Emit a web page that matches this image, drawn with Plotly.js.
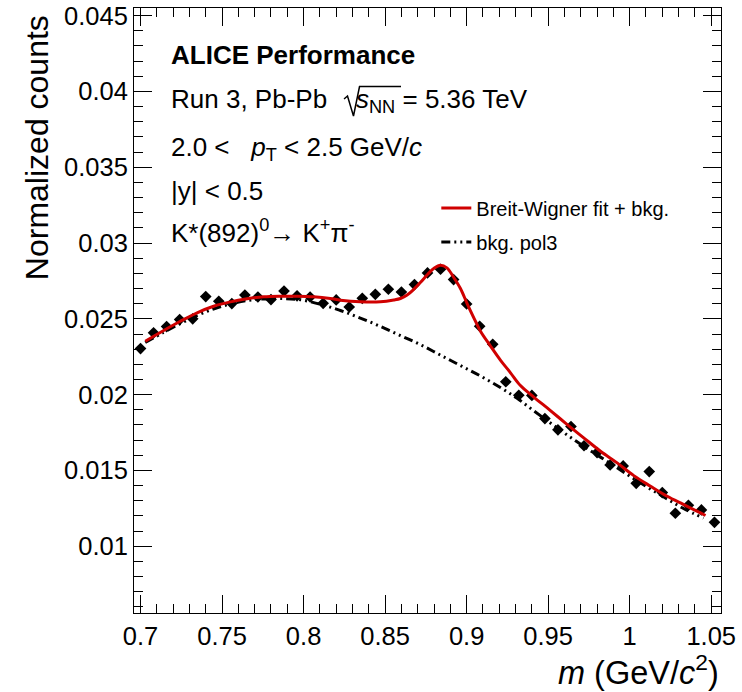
<!DOCTYPE html>
<html>
<head>
<meta charset="utf-8">
<script src="https://cdn.plot.ly/plotly-3.0.1.min.js"></script>
<style>
  html, body { margin: 0; padding: 0; background: #ffffff; }
  #chart { width: 742px; height: 692px; }
</style>
</head>
<body>
<div id="chart"></div>
<script>
// Invariant-mass bin centres (GeV/c^2) and normalized counts
const massBins = [0.700, 0.708, 0.716, 0.724, 0.732, 0.740, 0.748, 0.756, 0.764, 0.772,
                  0.780, 0.788, 0.796, 0.804, 0.812, 0.820, 0.828, 0.836, 0.844, 0.852,
                  0.860, 0.868, 0.876, 0.884, 0.892, 0.900, 0.908, 0.916, 0.924, 0.932,
                  0.940, 0.948, 0.956, 0.964, 0.972, 0.980, 0.988, 0.996, 1.004, 1.012,
                  1.020, 1.028, 1.036, 1.044, 1.052];
const normCounts = [0.02304, 0.02408, 0.02449, 0.02495, 0.02500, 0.02647, 0.02616, 0.02601, 0.02657, 0.02644,
                    0.02627, 0.02683, 0.02652, 0.02644, 0.02602, 0.02625, 0.02578, 0.02635, 0.02662, 0.02695,
                    0.02677, 0.02726, 0.02803, 0.02827, 0.02759, 0.02598, 0.02451, 0.02332, 0.02085, 0.01996,
                    0.01995, 0.01842, 0.01768, 0.01790, 0.01663, 0.01618, 0.01536, 0.01530, 0.01415, 0.01493,
                    0.01354, 0.01218, 0.01270, 0.01240, 0.01158];

// Breit-Wigner + residual background fit
const fitMass = [0.7029, 0.7142, 0.7244, 0.7347, 0.7448, 0.7551, 0.7653, 0.7755, 0.7858, 0.7960,
                 0.8062, 0.8164, 0.8226, 0.8348, 0.8471, 0.8553, 0.8594, 0.8635, 0.8674, 0.8716,
                 0.8760, 0.8802, 0.8839, 0.8879, 0.8919, 0.8962, 0.9003, 0.9044, 0.9085, 0.9146,
                 0.9207, 0.9269, 0.9330, 0.9412, 0.9514, 0.9617, 0.9718, 0.9821, 0.9923, 1.0025,
                 1.0128, 1.0230, 1.0332, 1.0434, 1.0465];
const fitCounts = [0.02352, 0.02423, 0.02484, 0.02540, 0.02583, 0.02612, 0.02632, 0.02645, 0.02649, 0.02649,
                   0.02645, 0.02634, 0.02623, 0.02612, 0.02612, 0.02624, 0.02634, 0.02657, 0.02693, 0.02739,
                   0.02792, 0.02835, 0.02853, 0.02836, 0.02776, 0.02700, 0.02601, 0.02507, 0.02418, 0.02321,
                   0.02228, 0.02144, 0.02060, 0.01984, 0.01895, 0.01803, 0.01715, 0.01627, 0.01550, 0.01466,
                   0.01396, 0.01330, 0.01275, 0.01220, 0.01203];

// Third-order polynomial background
const bkgMass = [0.7029, 0.7140, 0.7244, 0.7348, 0.7447, 0.7551, 0.7655, 0.7753, 0.7858, 0.7980,
                 0.8103, 0.8226, 0.8348, 0.8471, 0.8594, 0.8716, 0.8839, 0.8962, 0.9085, 0.9207,
                 0.9312, 0.9410, 0.9514, 0.9618, 0.9716, 0.9821, 0.9925, 1.0023, 1.0128, 1.0232,
                 1.0330, 1.0453];
const bkgCounts = [0.02344, 0.02410, 0.02469, 0.02522, 0.02565, 0.02598, 0.02621, 0.02631, 0.02634, 0.02626,
                   0.02596, 0.02555, 0.02505, 0.02450, 0.02390, 0.02330, 0.02261, 0.02192, 0.02123, 0.02047,
                   0.01974, 0.01895, 0.01813, 0.01733, 0.01661, 0.01588, 0.01516, 0.01447, 0.01377, 0.01311,
                   0.01249, 0.01186];

const xTickVals = [0.7, 0.75, 0.8, 0.85, 0.9, 0.95, 1.0, 1.05];
const xTickText = ['0.7', '0.75', '0.8', '0.85', '0.9', '0.95', '1', '1.05'];
const yTickVals = [0.01, 0.015, 0.02, 0.025, 0.03, 0.035, 0.04, 0.045];
const yTickText = ['0.01', '0.015', '0.02', '0.025', '0.03', '0.035', '0.04', '0.045'];

const FONT = 'Liberation Sans, Arial, Helvetica, sans-serif';
const NB = '\u00a0';
const TXT = 26;

const traces = [
  {
    x: massBins, y: normCounts, type: 'scatter', mode: 'markers',
    marker: { symbol: 'diamond', size: 9, color: '#000000' },
    showlegend: false, hoverinfo: 'skip'
  },
  {
    x: bkgMass, y: bkgCounts, type: 'scatter', mode: 'lines',
    name: 'bkg. pol3', legendgroup: 'b', legendrank: 2,
    line: { color: '#000000', width: 3, dash: '9px,4px,2px,4px,2px,4px', shape: 'spline' },
    hoverinfo: 'skip'
  },
  {
    x: fitMass, y: fitCounts, type: 'scatter', mode: 'lines',
    name: 'Breit-Wigner fit + bkg.', legendgroup: 'a', legendrank: 1,
    line: { color: '#d00000', width: 3, shape: 'spline' },
    hoverinfo: 'skip'
  }
];

const axisCommon = {
  showgrid: false, zeroline: false,
  showline: true, linecolor: '#000000', linewidth: 1, mirror: 'ticks',
  ticks: 'inside', ticklen: 18, tickwidth: 1, tickcolor: '#000000',
  tickfont: { family: FONT, size: 25.5, color: '#000000' },
  tickmode: 'array'
};

function label(text, x, y, size, extra) {
  return Object.assign({
    text: text, xref: 'paper', yref: 'paper', x: x, y: y,
    xanchor: 'left', yanchor: 'middle', showarrow: false,
    font: { family: FONT, size: size, color: '#000000' }
  }, extra || {});
}

const layout = {
  width: 742, height: 692,
  margin: { l: 134, r: 21, t: 8, b: 79 },
  paper_bgcolor: '#ffffff', plot_bgcolor: '#ffffff',
  font: { family: FONT, color: '#000000' },
  xaxis: Object.assign({}, axisCommon, {
    range: [0.696, 1.056], tickvals: xTickVals, ticktext: xTickText,
    minor: { tickmode: 'linear', tick0: 0.7, dtick: 0.01, ticks: 'inside', ticklen: 9, tickwidth: 1, tickcolor: '#000000', showgrid: false }
  }),
  yaxis: Object.assign({}, axisCommon, {
    range: [0.0056, 0.0455], tickvals: yTickVals, ticktext: yTickText,
    minor: { tickmode: 'linear', tick0: 0.01, dtick: 0.001, ticks: 'inside', ticklen: 9, tickwidth: 1, tickcolor: '#000000', showgrid: false }
  }),
  showlegend: true,
  legend: {
    x: 0.515, y: 0.7017, xanchor: 'left', yanchor: 'top',
    bgcolor: 'rgba(0,0,0,0)', borderwidth: 0,
    font: { family: FONT, size: 20, color: '#000000' },
    traceorder: 'grouped', tracegroupgap: 5, itemwidth: 30
  },
  // radical sign over s_NN
  shapes: [
    { type: 'path', xref: 'paper', yref: 'paper',
      path: 'M0.3578,0.8496 L0.3637,0.8545 L0.3739,0.8215 L0.3842,0.8702 L0.4549,0.8702',
      line: { color: '#000000', width: 1.5 } }
  ],
  annotations: [
    label('Normalized counts', -0.165, 0.7686, 32, { textangle: -90, xanchor: 'center' }),
    label('<i>m</i> (GeV/<i>c</i><sup>2</sup>)', 1.0, -0.0942, 32.5, { xanchor: 'right' }),
    label('<b>ALICE Performance</b>', 0.060, 0.9215, TXT),
    label('Run 3, Pb-Pb' + NB + NB + NB + NB + '<i>s</i><sub>NN</sub> = 5.36 TeV', 0.060, 0.8479, TXT),
    label('2.0 <' + NB + NB + NB + '<i>p</i><sub>T</sub> < 2.5 GeV/<i>c</i>', 0.060, 0.7678, TXT),
    label('|y| < 0.5', 0.060, 0.6967, TXT),
    label('K*(892)<sup>0</sup>→ K<sup>+</sup>π<sup>-</sup>', 0.060, 0.6298, TXT)
  ]
};

Plotly.newPlot('chart', traces, layout, { staticPlot: true, displayModeBar: false });
</script>
</body>
</html>
